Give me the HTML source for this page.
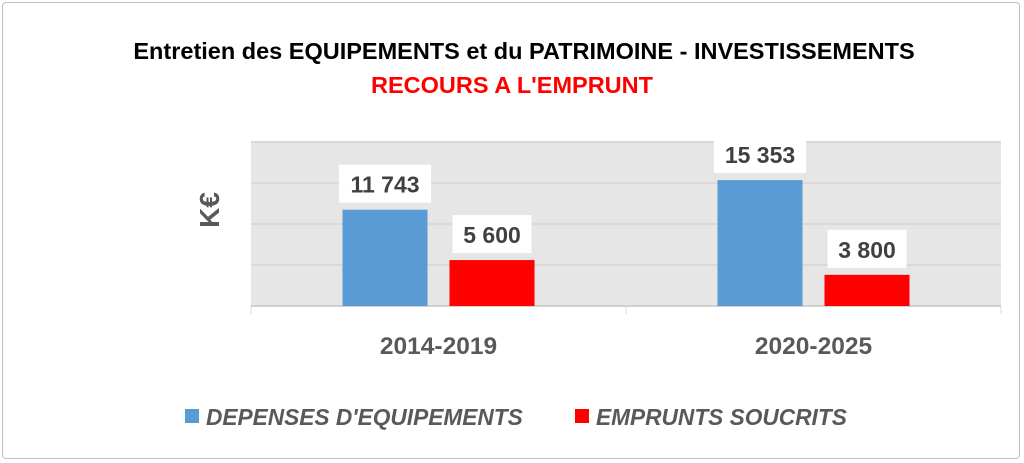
<!DOCTYPE html>
<html><head><meta charset="utf-8"><style>
body{margin:0;width:1024px;height:463px;background:#fff;overflow:hidden;font-family:"Liberation Sans",sans-serif}
#frame{position:absolute;left:2px;top:2px;width:1018px;height:457px;border:1px solid #bfbfbf;border-radius:4px;box-sizing:border-box}
</style></head><body>
<div id="frame"></div>
<svg width="1024" height="463" style="position:absolute;left:0;top:0">
<text x="524" y="59" text-anchor="middle" font-size="23.5" font-weight="bold" fill="#000">Entretien des EQUIPEMENTS et du PATRIMOINE -  INVESTISSEMENTS</text>
<text x="512" y="93" text-anchor="middle" font-size="23.5" font-weight="bold" fill="#ff0000">RECOURS A L'EMPRUNT</text>
<g id="plot"></g>
<text transform="translate(219,210) rotate(-90)" text-anchor="middle" font-size="28" font-weight="bold" fill="#595959">K€</text>
<rect x="185" y="409" width="14" height="14" fill="#5b9bd5"/>
<text x="206" y="425" font-size="22.7" font-weight="bold" font-style="italic" fill="#595959">DEPENSES D'EQUIPEMENTS</text>
<rect x="575" y="409" width="14" height="14" fill="#ff0000"/>
<text x="596" y="425" font-size="22.7" font-weight="bold" font-style="italic" fill="#595959">EMPRUNTS SOUCRITS</text>
</svg>
<script>
const categories=["2014-2019","2020-2025"];
const depenses=[11743,15353];
const emprunts=[5600,3800];
const gridTicks=[0,5000,10000,15000,20000];
const NS="http://www.w3.org/2000/svg";
const g=document.getElementById('plot');
const L=251,R=1001,B=306,T=142,MAX=20000;
const y=v=>B-(B-T)*v/MAX;
const cw=(R-L)/categories.length;
const cx=i=>L+cw*(i+0.5);
function mk(t,a){const e=document.createElementNS(NS,t);for(const k in a)e.setAttribute(k,a[k]);g.appendChild(e);return e;}
const bg=mk('rect',{x:L,y:T,width:R-L,height:B-T,fill:'#e6e6e6'});


gridTicks.forEach(v=>{const l=mk('line',{x1:L,x2:R,y1:y(v),y2:y(v),stroke:v===0?'#d0d0d0':'#d9d9d9','stroke-width':2});

});
[L,L+cw,R].forEach(x=>{const t=mk('line',{x1:x,x2:x,y1:B,y2:B+8,stroke:'#d9d9d9','stroke-width':1});

});
const bw=85,gap=22;
function bar(i,v,off,col,name){
  const x=cx(i)+off;
  const r=mk('rect',{x:x,y:y(v),width:bw,height:B-y(v),fill:col});
  
  
  const s=v.toString().replace(/\B(?=(\d{3})+(?!\d))/g,' ');
  const tw=s.length*13+14;
  const bx=mk('rect',{x:x+bw/2-tw/2,y:y(v)-45,width:tw,height:38,fill:'#fff'});
  
  
  const t=mk('text',{x:x+bw/2,y:y(v)-17,'text-anchor':'middle','font-size':23,'font-weight':'bold',fill:'#404040'});
  t.textContent=s;
  
  
}
categories.forEach((c,i)=>{
  bar(i,depenses[i],-bw-gap/2,'#5b9bd5','bar-depenses-'+c);
  bar(i,emprunts[i],gap/2,'#ff0000','bar-emprunts-'+c);
  const t=mk('text',{x:cx(i),y:354,'text-anchor':'middle','font-size':24.5,'font-weight':'bold',fill:'#595959'});
  t.textContent=c;
  
  
});
</script>
</body></html>
